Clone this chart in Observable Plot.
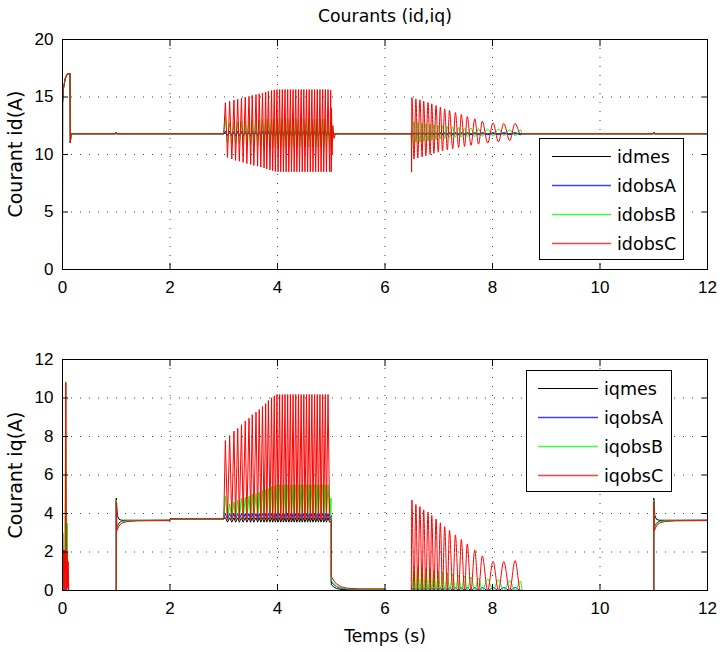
<!DOCTYPE html>
<html><head><meta charset="utf-8">
<script src="https://cdn.jsdelivr.net/npm/d3@7"></script>
<script src="https://cdn.jsdelivr.net/npm/@observablehq/plot@0.6"></script>
<style>
body{margin:0;background:#fff;}
#wrap{position:relative;width:720px;height:652px;overflow:hidden;background:#fff}
.panel{position:absolute;left:0}
.legend{position:absolute;background:#fff;border:1px solid #000;box-sizing:border-box;font-family:"DejaVu Sans",sans-serif;font-size:17.5px;color:#000}
.legend .row{position:absolute;left:0;height:29px;line-height:29px;white-space:nowrap}
.legend span{position:absolute}
#overlay{position:absolute;left:0;top:0;pointer-events:none}
</style>
</head><body><div id="wrap"></div>
<script>
// ---------- axes / labels ----------
const xTicks = [0, 2, 4, 6, 8, 10, 12];
const idTicks = [0, 5, 10, 15, 20];
const iqTicks = [0, 2, 4, 6, 8, 10, 12];
const idNames = ["idmes", "idobsA", "idobsB", "idobsC"];
const iqNames = ["iqmes", "iqobsA", "iqobsB", "iqobsC"];
const seriesColors = ["#000000", "#0000ff", "#00ff00", "#ff0000"];
const titleText = "Courants (id,iq)";
const idLabel = "Courant id(A)";
const iqLabel = "Courant iq(A)";
const xLabel = "Temps (s)";

// ---------- oscillation extremum times ----------
const tPk1 = [3.03,3.11,3.19,3.26,3.33,3.40,3.47,3.53,3.60,3.66,3.72,3.78,3.83,3.89,3.94,3.99,4.04,4.09,4.14,4.19,4.24,4.29,4.34,4.39,4.44,4.49,4.54,4.59,4.64,4.69,4.74,4.79,4.84,4.89,4.94];
const tTr1 = [3.07,3.15,3.22,3.29,3.36,3.43,3.50,3.56,3.63,3.69,3.75,3.80,3.86,3.91,3.96,4.01,4.06,4.11,4.16,4.21,4.26,4.31,4.36,4.41,4.46,4.51,4.56,4.61,4.66,4.71,4.76,4.81,4.86,4.91,4.97];
const tPk2 = [6.50,6.575,6.65,6.72,6.80,6.87,6.95,7.03,7.11,7.20,7.31,7.42,7.53,7.67,7.81,8.01,8.21,8.42];
const tTr2 = [6.54,6.61,6.69,6.76,6.84,6.91,6.99,7.07,7.16,7.26,7.37,7.48,7.60,7.74,7.91,8.11,8.32,8.52];

// ---------- id values ----------
const idC_pk1 = [14.5,14.63,14.74,14.8,14.9,14.99,15.06,15.14,15.21,15.28,15.35,15.43,15.5,15.57,15.62,15.65,15.65,15.65,15.65,15.65,15.65,15.65,15.65,15.65,15.65,15.65,15.65,15.65,15.65,15.65,15.65,15.65,15.65,15.65,15.65];
const idC_tr1 = [9.75,9.61,9.49,9.42,9.32,9.22,9.14,9.05,8.98,8.91,8.83,8.74,8.66,8.59,8.53,8.5,8.5,8.5,8.5,8.5,8.5,8.5,8.5,8.5,8.5,8.5,8.5,8.5,8.5,8.5,8.5,8.5,8.5,8.5,8.5];
const idB_pk1 = [13.3,12.75,12.8,12.85,12.9,12.92,12.95,12.98,13.0,13.02,13.05,13.07,13.1,13.1,13.1,13.1,13.1,13.1,13.1,13.1,13.1,13.1,13.1,13.1,13.1,13.1,13.1,13.1,13.1,13.1,13.1,13.1,13.1,13.1,13.1];
const idB_tr1 = [11.0,10.95,10.92,10.9,10.85,10.82,10.8,10.77,10.75,10.72,10.7,10.68,10.65,10.65,10.65,10.65,10.65,10.65,10.65,10.65,10.65,10.65,10.65,10.65,10.65,10.65,10.65,10.65,10.65,10.65,10.65,10.65,10.65,10.65,10.65];
const idC_pk2 = [14.95,14.84,14.76,14.63,14.52,14.41,14.26,14.11,13.97,13.83,13.65,13.48,13.30,13.10,12.90,12.75,12.70,12.70];
const idC_tr2 = [9.6,9.7,9.8,9.9,10.0,10.1,10.2,10.3,10.4,10.5,10.6,10.7,10.8,10.9,11.0,11.1,11.2,11.8];
const idB_pk2 = [12.85,12.8,12.75,12.7,12.65,12.6,12.55,12.5,12.45,12.4,12.35,12.3,12.3,12.25,12.2,12.2,12.15,12.15];
const idB_tr2 = [11.0,11.05,11.1,11.15,11.2,11.25,11.3,11.35,11.4,11.45,11.5,11.5,11.55,11.55,11.6,11.6,11.65,11.65];

const idHead = [[0,0],[0.002,14.5],[0.02,15.8],[0.05,16.6],[0.09,17.0],[0.14,17.05],[0.145,11.0],[0.16,11.8],[0.99,11.8],[1.0,11.95],[1.01,11.8],[3.0,11.8]];
const idKMid = [[5.0,11.8],[6.5,11.8]];
const idAMid = [[5.0,11.9],[5.02,11.7],[5.05,11.8],[6.49,11.8]];
const idBMid = [[4.99,13.0],[5.0,10.6],[5.01,12.6],[5.03,11.5],[5.06,11.8],[6.49,11.8],[6.495,10.5]];
const idCMid = [[4.99,15.6],[5.0,8.5],[5.005,14.0],[5.015,10.0],[5.03,12.5],[5.05,11.4],[5.08,11.8],[6.49,11.8],[6.495,8.5]];
const idTail = [[8.55,11.8],[10.99,11.8],[11.0,11.95],[11.01,11.8],[12,11.8]];

// ---------- iq values ----------
const iqC_pk1 = [7.79,8.05,8.28,8.42,8.61,8.80,8.95,9.13,9.26,9.40,9.56,9.71,9.87,10.01,10.11,10.18,10.18,10.18,10.18,10.18,10.18,10.18,10.18,10.18,10.18,10.18,10.18,10.18,10.18,10.18,10.18,10.18,10.18,10.18,10.18];
const iqB_pk1 = [4.9,4.5,4.6,4.7,4.8,4.85,4.9,5.0,5.05,5.1,5.2,5.25,5.3,5.4,5.45,5.5,5.5,5.5,5.5,5.5,5.5,5.5,5.5,5.5,5.5,5.5,5.5,5.5,5.5,5.5,5.5,5.5,5.5,5.5,5.5];
const iqC_pk2 = [4.7,4.47,4.36,4.19,4.07,3.90,3.71,3.52,3.32,3.12,2.89,2.65,2.42,2.11,1.80,1.52,1.51,1.56];
const iqB_pk2 = [1.25,1.2,1.18,1.15,1.1,1.05,1.0,0.95,0.9,0.85,0.8,0.75,0.7,0.65,0.6,0.55,0.5,0.48];

const iqKHead = [[0,0],[0.003,3.0],[0.01,1.2],[0.03,2.1],[0.05,1.0],[0.08,2.1],[0.1,0.5],[0.115,0],[1.0,0],[1.0,4.8],[1.02,3.9],[1.05,3.7],[1.1,3.65],[2.0,3.65],[2.0,3.72],[3.0,3.72]];
const iqAHead = [[0,0],[0.01,2.0],[0.03,0.5],[0.06,2.0],[0.09,0.3],[0.11,0],[1.0,0],[1.0,4.7],[1.01,3.3],[1.05,3.5],[1.1,3.6],[1.2,3.63],[2.0,3.65],[2.0,3.72],[3.0,3.72]];
const iqBHead = [[0,0],[0.02,2.0],[0.04,0],[0.06,10.85],[0.07,0.5],[0.09,3.5],[0.1,0.5],[0.12,0],[1.0,0],[1.0,4.7],[1.01,3.2],[1.05,3.45],[1.1,3.58],[1.2,3.62],[2.0,3.65],[2.0,3.72],[3.0,3.72]];
const iqCHead = [[0,0],[0.005,2.1],[0.01,0],[0.02,2.0],[0.03,0],[0.04,2.1],[0.05,0],[0.062,10.8],[0.075,0],[0.085,2.0],[0.095,0.2],[0.105,1.5],[0.115,0],[1.0,0],[1.0,4.6],[1.01,3.1],[1.05,3.35],[1.1,3.5],[1.2,3.58],[1.4,3.62],[2.0,3.63],[2.0,3.72],[3.0,3.72]];
const iqKMid = [[5.0,3.6],[5.0,0.3],[5.05,0.18],[5.1,0.1],[5.2,0.05],[5.4,0.03],[6.0,0.03],[6.0,0]];
const iqAMid = [[5.0,3.9],[5.0,0.45],[5.05,0.3],[5.1,0.2],[5.2,0.1],[5.3,0.06],[6.0,0.05],[6.0,0],[6.49,0]];
const iqBMid = [[4.995,4.8],[5.0,0.52],[5.05,0.35],[5.1,0.22],[5.2,0.12],[5.3,0.08],[5.5,0.06],[6.0,0.06],[6.0,0],[6.49,0]];
const iqCMid = [[5.0,3.7],[5.0,0.74],[5.05,0.5],[5.1,0.33],[5.2,0.18],[5.3,0.12],[5.5,0.09],[6.0,0.09],[6.0,0],[6.49,0]];
const iqKTail = [[8.55,0],[11.0,0],[11.0,4.8],[11.02,3.9],[11.05,3.7],[11.1,3.65],[12,3.65]];
const iqATail = [[8.55,0],[11.0,0],[11.0,4.7],[11.01,3.3],[11.05,3.5],[11.1,3.6],[11.2,3.63],[12,3.65]];
const iqBTail = [[8.55,0],[11.0,0],[11.0,4.7],[11.01,3.2],[11.05,3.45],[11.1,3.58],[11.2,3.62],[12,3.64]];
const iqCTail = [[8.55,0],[11.0,0],[11.0,4.6],[11.01,3.1],[11.05,3.35],[11.1,3.5],[11.2,3.58],[11.4,3.62],[12,3.63]];

// ---------- builders ----------
const val = (v, i) => Array.isArray(v) ? v[i] : v;
function osc(tA, vA, tB, vB) {
  const o = [];
  for (let i = 0; i < tA.length; i++) { o.push([tA[i], val(vA, i)]); o.push([tB[i], val(vB, i)]); }
  return o.sort((a, b) => a[0] - b[0]);
}
const smooth = (pts) => ({smooth: pts});
function rows(name, parts) {
  const out = [];
  let k = 0;
  parts.forEach((p, i) => {
    if (Array.isArray(p)) {
      p.forEach(([t, v]) => out.push({s: name, g: name + "#" + k, smooth: false, t, v}));
    } else {
      const before = parts[i - 1], after = parts[i + 1];
      const pts = [before[before.length - 1], ...p.smooth, after[0]];
      pts.forEach(([t, v]) => out.push({s: name, g: name + "~" + i, smooth: true, t, v}));
      k++;
    }
  });
  return out;
}

const idData = [
  ...rows(idNames[0], [idHead, osc(tPk1, 11.85, tTr1, 11.75), idKMid, idTail]),
  ...rows(idNames[1], [idHead, osc(tPk1, 12.05, tTr1, 11.6), idAMid, smooth(osc(tPk2, 11.9, tTr2, 11.72)), idTail]),
  ...rows(idNames[2], [idHead, osc(tPk1, idB_pk1, tTr1, idB_tr1), idBMid, smooth(osc(tTr2, idB_pk2, tPk2, idB_tr2)), idTail]),
  ...rows(idNames[3], [idHead, osc(tPk1, idC_pk1, tTr1, idC_tr1), idCMid, smooth(osc(tPk2, idC_pk2, tTr2, idC_tr2)), idTail])
];
const iqData = [
  ...rows(iqNames[0], [iqKHead, osc(tPk1, 3.78, tTr1, 3.55), iqKMid, iqKTail]),
  ...rows(iqNames[1], [iqAHead, osc(tPk1, 4.0, tTr1, 3.7), iqAMid, smooth(osc(tPk2, 0.15, tTr2, 0)), iqATail]),
  ...rows(iqNames[2], [iqBHead, osc(tPk1, iqB_pk1, tTr1, 3.7), iqBMid, smooth(osc(tTr2, iqB_pk2, tPk2, 0)), iqBTail]),
  ...rows(iqNames[3], [iqCHead, osc(tPk1, iqC_pk1, tTr1, 3.7), iqCMid, smooth(osc(tPk2, iqC_pk2, tTr2, 0)), iqCTail])
];

function panel(data, names, yDomain, yTicks, height, mt, mb) {
  const gridStyle = {stroke: "#000", strokeOpacity: 0.75, strokeDasharray: "1,8"};
  return Plot.plot({
    width: 720, height, marginLeft: 62, marginRight: 13, marginTop: mt, marginBottom: mb,
    style: {fontFamily: "'Liberation Sans', Arial, sans-serif", fontSize: "17px", color: "#000", background: "#fff", overflow: "visible"},
    x: {domain: [0, 12]},
    y: {domain: yDomain},
    color: {domain: names, range: seriesColors},
    marks: [
      Plot.gridX(xTicks, gridStyle),
      Plot.gridY(yTicks, gridStyle),
      Plot.line(data.filter(d => !d.smooth), {x: "t", y: "v", z: "g", stroke: "s", strokeWidth: 1}),
      Plot.line(data.filter(d => d.smooth), {x: "t", y: "v", z: "g", stroke: "s", strokeWidth: 1, curve: "monotone-x"}),
      Plot.frame({stroke: "#000", strokeWidth: 1}),
      Plot.axisX(xTicks, {anchor: "bottom", tickSize: 6, dy: -6, fill: "none", label: null}),
      Plot.axisX(xTicks, {anchor: "top", tickSize: 6, dy: 6, fill: "none", label: null}),
      Plot.axisY(yTicks, {anchor: "left", tickSize: 6, dx: 6, fill: "none", label: null}),
      Plot.axisY(yTicks, {anchor: "right", tickSize: 6, dx: -6, fill: "none", label: null}),
      Plot.axisX(xTicks, {anchor: "bottom", tickSize: 0, tickPadding: 11, label: null}),
      Plot.axisY(yTicks, {anchor: "left", tickSize: 0, tickPadding: 9, label: null})
    ]
  });
}

const wrap = document.getElementById("wrap");
const p1 = panel(idData, idNames, [0, 20], idTicks, 300, 39, 31);
p1.classList.add("panel"); p1.style.top = "0px";
wrap.appendChild(p1);
const p2 = panel(iqData, iqNames, [0, 12], iqTicks, 322, 29, 62);
p2.classList.add("panel"); p2.style.top = "330px";
wrap.appendChild(p2);

// legend boxes with text
const legends = [
  {names: idNames, left: 539, top: 138, width: 145, height: 122, x1: 12, x2: 71, tx: 77},
  {names: iqNames, left: 526, top: 370, width: 146, height: 122, x1: 11, x2: 71, tx: 77}
];
legends.forEach(L => {
  const box = document.createElement("div");
  box.className = "legend";
  Object.assign(box.style, {left: L.left + "px", top: L.top + "px", width: L.width + "px", height: L.height + "px"});
  L.names.forEach((n, i) => {
    const row = document.createElement("div");
    row.className = "row";
    row.style.top = (3.5 + i * 29) + "px";
    const sp = document.createElement("span");
    sp.style.left = L.tx + "px";
    sp.textContent = n;
    row.appendChild(sp);
    box.appendChild(row);
  });
  wrap.appendChild(box);
});

// overlay: title, axis labels, legend line samples
const ov = d3.select(wrap).append("svg").attr("id", "overlay").attr("width", 720).attr("height", 652)
  .style("font-family", "'DejaVu Sans', sans-serif").attr("fill", "#000");
ov.append("text").attr("x", 385).attr("y", 22).attr("text-anchor", "middle").style("font-size", "17.3px").text(titleText);
ov.append("text").attr("transform", "translate(22,154) rotate(-90)").attr("text-anchor", "middle").style("font-size", "19px").text(idLabel);
ov.append("text").attr("transform", "translate(22,475) rotate(-90)").attr("text-anchor", "middle").style("font-size", "19px").text(iqLabel);
ov.append("text").attr("x", 385).attr("y", 642).attr("text-anchor", "middle").style("font-size", "17px").text(xLabel);
legends.forEach(L => {
  L.names.forEach((n, i) => {
    const y = L.top + 18.5 + i * 29;
    ov.append("line")
      .attr("x1", L.left + 1 + L.x1).attr("x2", L.left + 1 + L.x2)
      .attr("y1", y).attr("y2", y)
      .attr("stroke", seriesColors[i]).attr("stroke-width", i === 0 ? 1 : 1.6)
      .attr("stroke-opacity", i === 0 ? 1 : 0.75);
  });
});
</script>
</body></html>
